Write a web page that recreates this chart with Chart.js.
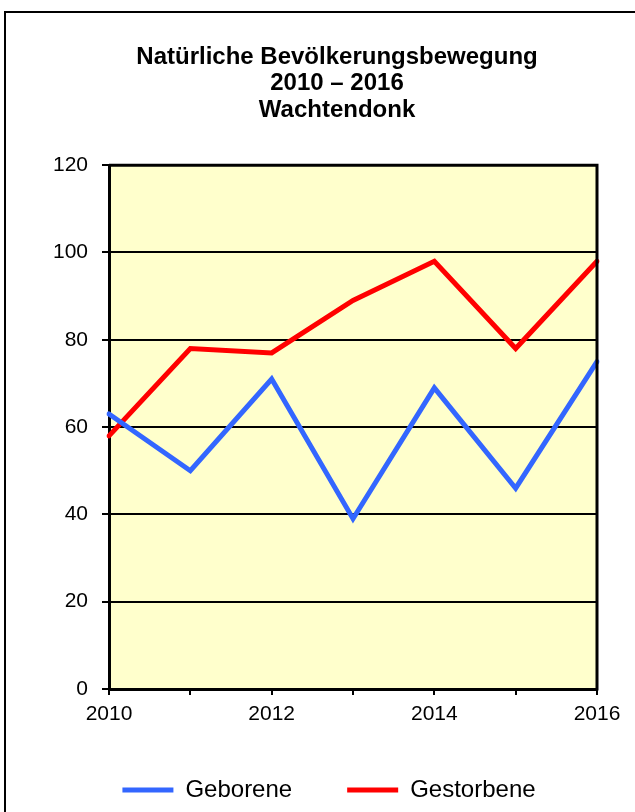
<!DOCTYPE html>
<html>
<head>
<meta charset="utf-8">
<script src="https://cdn.jsdelivr.net/npm/chart.js@4"></script>
<style>
  html, body { margin: 0; padding: 0; background: #fff; overflow: hidden; }
  #rand { position: absolute; left: 4px; top: 11px; width: 664px; height: 840px; border: 2px solid #000; box-sizing: border-box; }
  #chart { position: absolute; left: 0; top: 0; }
</style>
</head>
<body>
<div id="rand"></div>
<canvas id="chart" width="635" height="812"></canvas>
<script>
// Daten
const jahre = ['2010', '2011', '2012', '2013', '2014', '2015', '2016']
const geborene = [63, 50, 71, 39, 69, 46, 75]
const gestorbene = [58, 78, 77, 89, 98, 78, 98]
const titel = ['Natürliche Bevölkerungsbewegung', '2010 – 2016', 'Wachtendonk']

Chart.defaults.color = '#000'
Chart.defaults.font.family = "'Liberation Sans', Arial, sans-serif"

// gelber Hintergrund + Rahmen oben/rechts
const plotRahmen = {
  id: 'plotRahmen',
  afterLayout(chart) {
    // Titel sitzt im Original etwas rechts von der Legendenmitte
    if (chart.titleBlock) {
      chart.titleBlock.left += 8
      chart.titleBlock.right += 8
    }
  },
  beforeDraw(chart) {
    const a = chart.chartArea, ctx = chart.ctx
    ctx.save()
    ctx.fillStyle = '#ffffcc'
    ctx.fillRect(a.left, a.top, a.right - a.left, a.bottom - a.top)
    ctx.restore()
  },
  afterDatasetsDraw(chart) {
    const a = chart.chartArea, ctx = chart.ctx
    ctx.save()
    ctx.strokeStyle = '#000'
    ctx.lineWidth = 3
    ctx.beginPath()
    ctx.moveTo(a.left, a.top)
    ctx.lineTo(a.right, a.top)
    ctx.lineTo(a.right, a.bottom + 1.5)
    ctx.stroke()
    ctx.restore()
  }
}

new Chart(document.getElementById('chart'), {
  type: 'line',
  data: {
    labels: jahre,
    datasets: [
      {
        label: 'Geborene',
        data: geborene,
        borderColor: '#3366ff',
        backgroundColor: '#3366ff',
        borderWidth: 5,
        borderCapStyle: 'round',
        pointRadius: 0,
        tension: 0
      }, {
        label: 'Gestorbene',
        data: gestorbene,
        borderColor: '#ff0000',
        backgroundColor: '#ff0000',
        borderWidth: 5,
        borderCapStyle: 'round',
        pointRadius: 0,
        tension: 0
      }
    ]
  },
  options: {
    responsive: false,
    animation: false,
    layout: { padding: { left: 53, right: 30, top: 44, bottom: 0 } },
    plugins: {
      title: {
        display: true,
        text: titel,
        font: { size: 24, weight: 'bold', lineHeight: 1.1 },
        padding: { top: 0, bottom: 42 }
      },
      legend: {
        position: 'bottom',
        labels: {
          usePointStyle: true,
          pointStyle: 'line',
          pointStyleWidth: 51,
          padding: 55,
          font: { size: 24 }
        }
      },
      tooltip: { enabled: false }
    },
    scales: {
      x: {
        afterFit: (s) => { s.height = 34 },
        grid: { drawOnChartArea: false, color: '#000', lineWidth: 2, tickLength: 6 },
        border: { color: '#000', width: 3 },
        ticks: {
          autoSkip: false,
          maxRotation: 0,
          padding: 7,
          font: { size: 21 },
          callback: function(val, i) {
            const j = this.getLabelForValue(val)
            return Number(j) % 2 === 0 ? j : ''
          }
        }
      },
      y: {
        min: 0,
        max: 120,
        afterFit: (s) => { s.width = 56 },
        grid: { color: '#000', lineWidth: 2, tickLength: 7 },
        border: { color: '#000', width: 3 },
        ticks: { stepSize: 20, padding: 14, font: { size: 21 } }
      },
      // leere rechte Achse als Abstandhalter
      yRechts: {
        type: 'linear',
        position: 'right',
        afterFit: (s) => { s.width = 8 },
        grid: { display: false },
        border: { display: false },
        ticks: { display: false }
      }
    }
  },
  plugins: [plotRahmen]
})
</script>
</body>
</html>
